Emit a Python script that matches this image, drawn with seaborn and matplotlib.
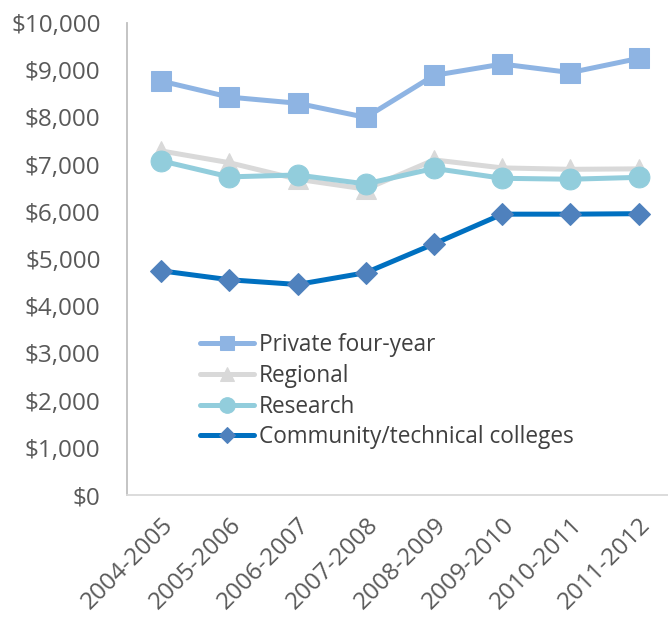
import pandas as pd
import numpy as np
import matplotlib
matplotlib.use('Agg')
import matplotlib.pyplot as plt
import seaborn as sns

#data
years = ['2004-2005', '2005-2006', '2006-2007', '2007-2008',
         '2008-2009', '2009-2010', '2010-2011', '2011-2012']
private_four_year = [8770, 8430, 8300, 8000, 8890, 9130, 8950, 9250]
regional = [7290, 7040, 6690, 6480, 7100, 6930, 6900, 6910]
research = [7080, 6740, 6780, 6590, 6920, 6710, 6690, 6730]
community = [4750, 4560, 4460, 4710, 5320, 5950, 5950, 5960]

series_names = ['Private four-year', 'Regional', 'Research', 'Community/technical colleges']
series_values = [private_four_year, regional, research, community]

#styling per series: line colour, marker, marker colour, marker size
styles = {
    'Private four-year': ('#8EB4E3', 's', '#8EB4E3', 14),
    'Regional': ('#D9D9D9', '^', '#D9D9D9', 14),
    'Research': ('#92CDDC', 'o', '#92CDDC', 15),
    'Community/technical colleges': ('#0070C0', 'D', '#4F81BD', 11),
}

df = pd.DataFrame({
    'year': years * len(series_names),
    'cost': sum(series_values, []),
    'group': np.repeat(series_names, len(years)),
})

sns.set_style('white')
plt.rcParams['font.family'] = ['Open Sans', 'DejaVu Sans']

fig = plt.figure(figsize=(6.68, 6.25), dpi=100)
ax = fig.add_axes([127/668, 1 - 495/625, 1 - 127/668, 472/625])

for name in series_names:
    color, marker, mcolor, msize = styles[name]
    sns.lineplot(data=df[df['group'] == name], x='year', y='cost', ax=ax,
                 color=color, linewidth=3.6, marker=marker, markersize=msize,
                 markerfacecolor=mcolor, markeredgecolor=mcolor,
                 label=name, sort=False)

ax.set_ylim(0, 10000)
ax.set_yticks(np.arange(0, 10001, 1000))
ax.set_yticklabels(['${:,.0f}'.format(v) for v in np.arange(0, 10001, 1000)])
ax.set_xlim(-0.5, 7.43)
ax.set_xticks(range(len(years)))
ax.set_xticklabels(years, rotation=45, ha='right', rotation_mode='anchor')
ax.set_xticks(np.arange(-0.5, 7.0, 1), minor=True)
ax.tick_params(axis='x', which='major', length=0, pad=13, labelsize=17.5, labelcolor='#595959')
ax.tick_params(axis='x', which='minor', length=7, width=1.2, color='#D9D9D9', direction='out')
ax.tick_params(axis='y', length=0, pad=19, labelsize=17.5, labelcolor='#595959')
ax.set_xlabel('')
ax.set_ylabel('')
ax.grid(False)

for s in ['top', 'right']:
    ax.spines[s].set_visible(False)
ax.spines['left'].set_color('#BFBFBF')
ax.spines['left'].set_linewidth(1.3)
ax.spines['bottom'].set_color('#D9D9D9')
ax.spines['bottom'].set_linewidth(1.3)

leg = ax.legend(loc='upper left', bbox_to_anchor=(200/668, 1 - 333/625),
                bbox_transform=fig.transFigure, frameon=False, fontsize=16.3,
                handlelength=2.4, handletextpad=0.2, labelspacing=0.3,
                markerscale=0.75, borderpad=0, borderaxespad=0)
for t in leg.get_texts():
    t.set_color('#404040')

plt.savefig('out.png', dpi=100)
